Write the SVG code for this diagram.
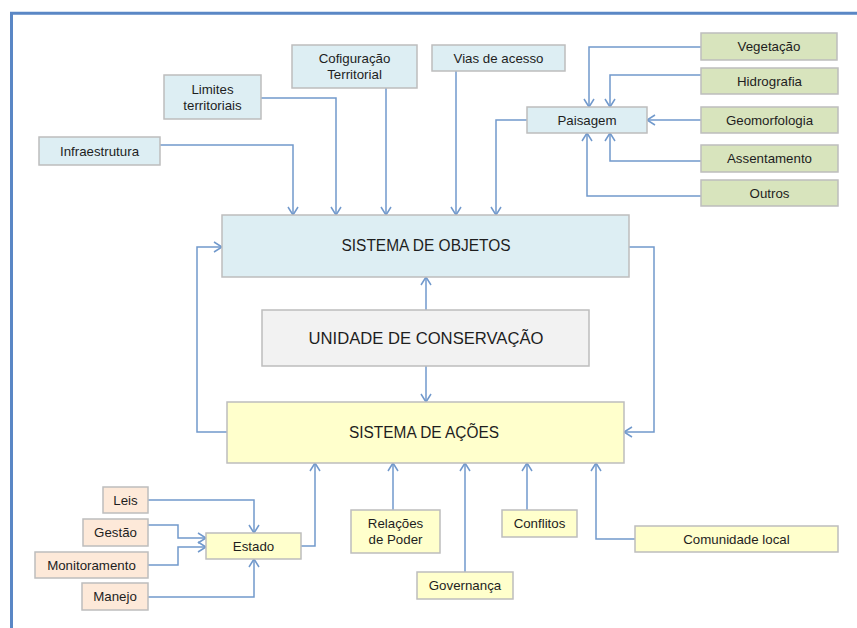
<svg xmlns="http://www.w3.org/2000/svg" width="857" height="628" viewBox="0 0 857 628">
<style>
.b{stroke:#BDBDBD;stroke-width:1.5}
.bl{fill:#DDEEF3}.gr{fill:#D8E4BD}.ye{fill:#FFFFCC}.pe{fill:#FDE9D9}.gy{fill:#F2F2F2}
text{font-family:"Liberation Sans",Arial,sans-serif;font-size:13.3px;fill:#1E1E1E;text-anchor:middle}
.big{font-size:16px}
.uc{font-size:17px}
#connectors path{fill:none;stroke:#7199CC;stroke-width:1.5;marker-end:url(#a)}
</style>
<defs>
<marker id="a" viewBox="-10 -7 12 14" refX="0" refY="0" markerWidth="12" markerHeight="14" orient="auto" markerUnits="userSpaceOnUse">
<path d="M-8,-5 L0,0 L-8,5" fill="none" stroke="#7199CC" stroke-width="1.5"/>
</marker>
</defs>
<rect width="857" height="628" fill="#FFFFFF"/>
<path d="M11.5,628 V13.3 H857" fill="none" stroke="#5A87C5" stroke-width="3"/>
<g id="connectors">
<path d="M160,145 H293 V215"/>
<path d="M261,98 H336 V215"/>
<path d="M386,88 V215"/>
<path d="M456,71 V215"/>
<path d="M527,120 H496 V215"/>
<path d="M701,47 H589 V107"/>
<path d="M701,75 H610 V107"/>
<path d="M701,120 H647"/>
<path d="M701,161 H610 V133"/>
<path d="M701,196 H587 V133"/>
<path d="M426,310 V277"/>
<path d="M426,366 V402"/>
<path d="M227,432 H197 V247 H222"/>
<path d="M629,247 H654 V432 H624"/>
<path d="M148,500 H254 V533"/>
<path d="M148,525 H178 V538 H206"/>
<path d="M148,565 H178 V547 H206"/>
<path d="M148,597 H254 V559"/>
<path d="M301,546 H315 V463"/>
<path d="M393,510 V463"/>
<path d="M465,572 V463"/>
<path d="M527,510 V463"/>
<path d="M635,539 H596 V463"/>
</g>
<g id="infraestrutura"><rect class="b bl" x="39" y="137" width="121" height="28"/><text x="99.5" y="155.7">Infraestrutura</text></g>
<g id="limites"><rect class="b bl" x="164" y="75" width="97" height="44"/><text x="212.5" y="94">Limites</text><text x="212.5" y="110">territoriais</text></g>
<g id="configuracao"><rect class="b bl" x="292" y="45" width="125" height="43"/><text x="354.5" y="63">Cofiguração</text><text x="354.5" y="79">Territorial</text></g>
<g id="vias"><rect class="b bl" x="432" y="45" width="133" height="26"/><text x="498.5" y="62.7">Vias de acesso</text></g>
<g id="paisagem"><rect class="b bl" x="527" y="107" width="120" height="26"/><text x="587" y="124.7">Paisagem</text></g>
<g id="vegetacao"><rect class="b gr" x="701" y="33" width="136" height="27"/><text x="769" y="51.2">Vegetação</text></g>
<g id="hidrografia"><rect class="b gr" x="701" y="68" width="137" height="26"/><text x="769.5" y="85.7">Hidrografia</text></g>
<g id="geomorfologia"><rect class="b gr" x="701" y="107" width="137" height="26"/><text x="769.5" y="124.7">Geomorfologia</text></g>
<g id="assentamento"><rect class="b gr" x="701" y="145" width="137" height="27"/><text x="769.5" y="163.2">Assentamento</text></g>
<g id="outros"><rect class="b gr" x="701" y="180" width="137" height="26"/><text x="769.5" y="197.7">Outros</text></g>
<g id="objetos"><rect class="b bl" x="222" y="215" width="407" height="62"/><text class="big" x="426" y="251" textLength="169" lengthAdjust="spacingAndGlyphs">SISTEMA DE OBJETOS</text></g>
<g id="uc"><rect class="b gy" x="262" y="310" width="327" height="56"/><text class="uc" x="426" y="343.5" textLength="235" lengthAdjust="spacingAndGlyphs">UNIDADE DE CONSERVAÇÃO</text></g>
<g id="acoes"><rect class="b ye" x="227" y="402" width="397" height="61"/><text class="big" x="424" y="438" textLength="150" lengthAdjust="spacingAndGlyphs">SISTEMA DE AÇÕES</text></g>
<g id="leis"><rect class="b pe" x="103" y="487" width="45" height="26"/><text x="125.5" y="504.7">Leis</text></g>
<g id="gestao"><rect class="b pe" x="83" y="519" width="65" height="27"/><text x="115.5" y="537.2">Gestão</text></g>
<g id="monitoramento"><rect class="b pe" x="35" y="552" width="113" height="26"/><text x="91.5" y="569.7">Monitoramento</text></g>
<g id="manejo"><rect class="b pe" x="82" y="583" width="66" height="27"/><text x="115" y="601.2">Manejo</text></g>
<g id="estado"><rect class="b ye" x="206" y="533" width="95" height="26"/><text x="253.5" y="550.7">Estado</text></g>
<g id="relacoes"><rect class="b ye" x="351" y="510" width="89" height="43"/><text x="395.5" y="528">Relações</text><text x="395.5" y="544">de Poder</text></g>
<g id="governanca"><rect class="b ye" x="417" y="572" width="96" height="27"/><text x="465" y="590.2">Governança</text></g>
<g id="conflitos"><rect class="b ye" x="502" y="510" width="75" height="27"/><text x="539.5" y="528.2">Conflitos</text></g>
<g id="comunidade"><rect class="b ye" x="635" y="526" width="203" height="26"/><text x="736.5" y="543.7">Comunidade local</text></g>
</svg>
